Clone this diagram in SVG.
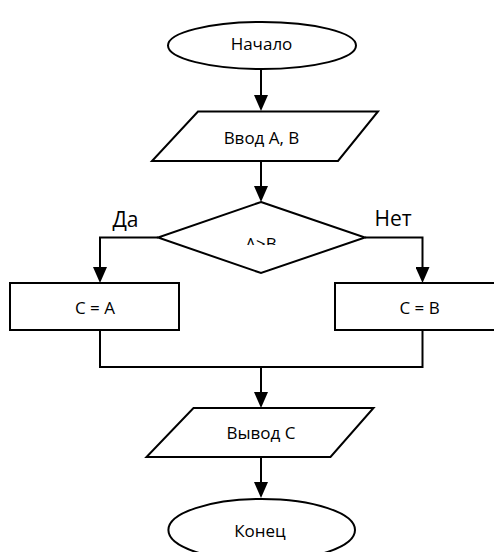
<svg xmlns="http://www.w3.org/2000/svg" width="494" height="552" viewBox="0 0 494 552">
<style>
.s{fill:#fff;stroke:#000;stroke-width:2}
.c{fill:none;stroke:#000;stroke-width:2}
.t{font-family:"Open Sans","Liberation Sans",sans-serif;font-size:17px;fill:#000;text-anchor:middle}
.l{font-family:"Open Sans","Liberation Sans",sans-serif;font-size:21px;fill:#000}
</style>
<defs>
<marker id="a" markerUnits="userSpaceOnUse" markerWidth="16" markerHeight="14" refX="0" refY="7" orient="auto" viewBox="0 0 16 14">
<path d="M0,0 L16,7 L0,14 z" fill="#000"/>
</marker>
<clipPath id="dc"><rect x="150" y="200" width="220" height="45"/></clipPath>
</defs>
<rect width="494" height="552" fill="#fff"/>
<g id="connectors">
<path class="c" d="M261,69 V95" marker-end="url(#a)"/>
<path class="c" d="M261,161 V186" marker-end="url(#a)"/>
<path class="c" d="M158,237.5 H100 V267" marker-end="url(#a)"/>
<path class="c" d="M365,237.5 H422.5 V267" marker-end="url(#a)"/>
<path class="c" d="M100,330 V367 H422.5 V330"/>
<path class="c" d="M261,367 V392" marker-end="url(#a)"/>
<path class="c" d="M261,457 V482" marker-end="url(#a)"/>
</g>
<g id="start">
<ellipse class="s" cx="262" cy="45.5" rx="94" ry="23.5"/>
<text class="t" x="261.5" y="49.5">Начало</text>
</g>
<g id="input">
<polygon class="s" points="198,111.5 378,111.5 338,161 152,161"/>
<text class="t" x="261.5" y="144">Ввод А, В</text>
</g>
<g id="decision">
<polygon class="s" points="261,202 365,237.5 261,273 158,237.5"/>
<text class="t" x="261" y="249.5" clip-path="url(#dc)">A&gt;B</text>
</g>
<g id="yes-label"><text class="l" x="112.5" y="226.5">Да</text></g>
<g id="no-label"><text class="l" x="374.5" y="226">Нет</text></g>
<g id="assignA">
<rect class="s" x="10" y="283" width="169" height="47"/>
<text class="t" x="95" y="314">C = A</text>
</g>
<g id="assignB">
<rect class="s" x="335" y="283" width="169" height="47"/>
<text class="t" x="419.5" y="314">C = B</text>
</g>
<g id="output">
<polygon class="s" points="193.5,408 373.5,408 330.5,457 146.5,457"/>
<text class="t" x="261" y="439">Вывод C</text>
</g>
<g id="end">
<ellipse class="s" cx="261.7" cy="530" rx="93.3" ry="31"/>
<text class="t" x="260" y="537">Конец</text>
</g>
</svg>
